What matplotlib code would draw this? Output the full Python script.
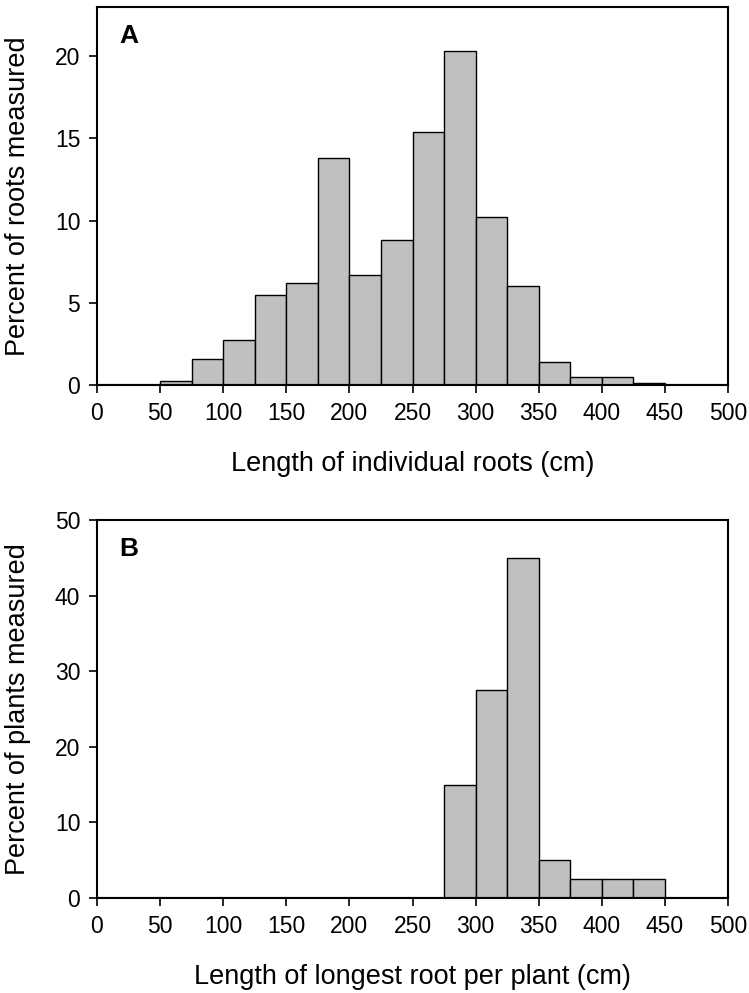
import numpy as np
import matplotlib
matplotlib.use('Agg')
import matplotlib.pyplot as plt

plt.rcParams['font.family'] = ['Liberation Sans', 'DejaVu Sans']

# bin edges (cm), 25 cm classes
edges = np.arange(0, 525, 25)

# panel A: percent of roots measured per length class (starting at 0 cm)
pct_roots = [0, 0, 0.25, 1.6, 2.75, 5.5, 6.2, 13.8, 6.7, 8.8,
             15.4, 20.3, 10.25, 6.0, 1.4, 0.5, 0.5, 0.15, 0, 0]

# panel B: percent of plants, by longest root
pct_plants = [0, 0, 0, 0, 0, 0, 0, 0, 0, 0,
              0, 15.0, 27.5, 45.0, 5.0, 2.5, 2.5, 2.5, 0, 0]

xticks = list(range(0, 550, 50))

fig = plt.figure(figsize=(7.49, 9.93), dpi=100)
axA = fig.add_axes([0.1295, 0.6123, 0.8425, 0.3807])
axB = fig.add_axes([0.1295, 0.0957, 0.8425, 0.3807])

def panel(ax, vals, ymax, yticks, ylab, xlab, letter):
    left = edges[:-1]
    w = np.diff(edges)
    ax.bar(left, vals, width=w, align='edge', color='#c0c0c0',
           edgecolor='black', linewidth=1.0)
    ax.axhline(0, color='black', lw=1.5)
    ax.set_xlim(0, 500)
    ax.set_ylim(0, ymax)
    ax.set_xticks(xticks)
    ax.set_yticks(yticks)
    ax.tick_params(direction='out', length=6, width=1.2, labelsize=16.5, pad=6)
    for s in ax.spines.values():
        s.set_linewidth(1.5)
    ax.set_ylabel(ylab, fontsize=19.5)
    ax.set_xlabel(xlab, fontsize=19.5)
    ax.yaxis.set_label_coords(-0.125, 0.5)
    ax.yaxis.label.set_va('center')
    ax.xaxis.set_label_coords(0.5, -0.21)
    ax.xaxis.label.set_va('center')
    ax.text(0.035, 0.955, letter, transform=ax.transAxes, fontsize=19,
            fontweight='bold', va='top', ha='left')

panel(axA, pct_roots, 23, [0, 5, 10, 15, 20],
      'Percent of roots measured', 'Length of individual roots (cm)', 'A')
panel(axB, pct_plants, 50, [0, 10, 20, 30, 40, 50],
      'Percent of plants measured', 'Length of longest root per plant (cm)', 'B')

plt.savefig('out.png', dpi=100)
